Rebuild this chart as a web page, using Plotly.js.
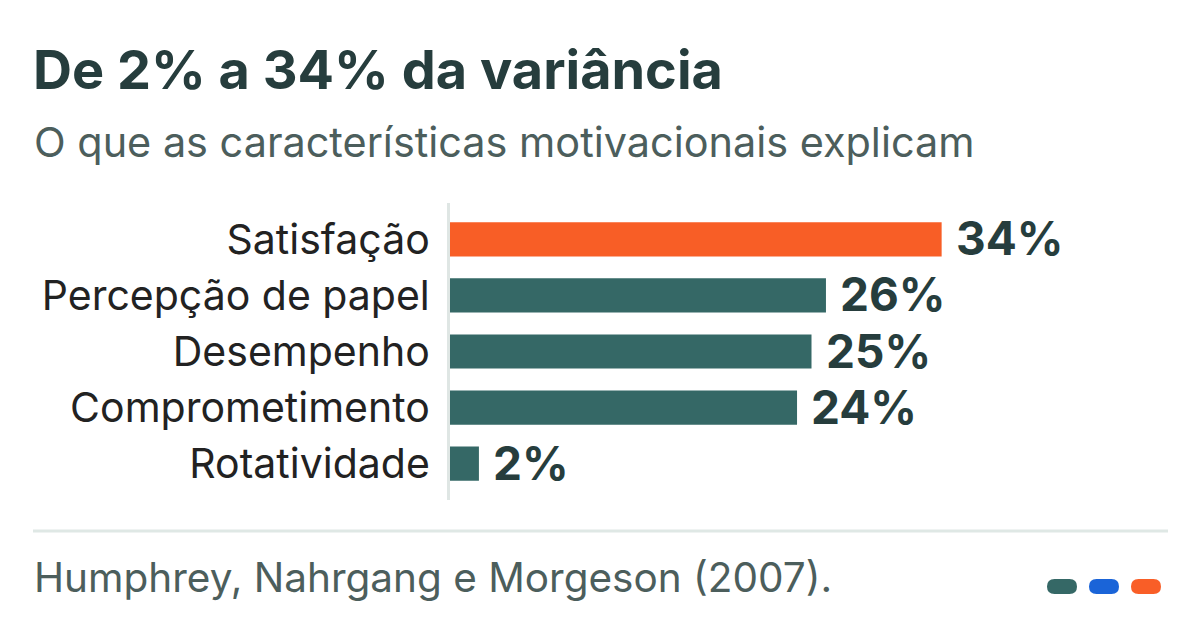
<!DOCTYPE html>
<html>
<head>
<meta charset="utf-8">
<script src="https://cdn.plot.ly/plotly-3.0.1.min.js"></script>
<style>
  html, body { margin: 0; padding: 0; background: #fff; }
  #chart { width: 1200px; height: 630px; }
</style>
</head>
<body>
<div id="chart"></div>
<script>
const categories = [
  "Satisfação",
  "Percepção de papel",
  "Desempenho",
  "Comprometimento",
  "Rotatividade",
];
const variance = [34, 26, 25, 24, 2];
const barColors = ["#f85e26", "#356866", "#356866", "#356866", "#356866"];
const pillColors = ["#356866", "#1a64d8", "#f95e27"];

const W = 1200;
const H = 630;
const margin = { l: 450, r: 27, t: 203, b: 130 };
const plotW = W - margin.l - margin.r;
const plotH = H - margin.t - margin.b;

// pixel -> paper helpers for the decorations outside the plot
function px(x) {
  return (x - margin.l) / plotW;
}
function py(y) {
  return (H - margin.b - y) / plotH;
}

function pill(x0, y0, x1, y1, color) {
  const r = (y1 - y0) / 2;
  const path =
    `M ${px(x0 + r)} ${py(y0)} L ${px(x1 - r)} ${py(y0)} ` +
    `Q ${px(x1)} ${py(y0)} ${px(x1)} ${py(y0 + r)} ` +
    `Q ${px(x1)} ${py(y1)} ${px(x1 - r)} ${py(y1)} ` +
    `L ${px(x0 + r)} ${py(y1)} ` +
    `Q ${px(x0)} ${py(y1)} ${px(x0)} ${py(y0 + r)} ` +
    `Q ${px(x0)} ${py(y0)} ${px(x0 + r)} ${py(y0)} Z`;
  return {
    type: "path",
    xref: "paper",
    yref: "paper",
    path: path,
    fillcolor: color,
    line: { width: 0 },
  };
}

const trace = {
  type: "bar",
  orientation: "h",
  x: variance,
  y: categories,
  marker: { color: barColors },
  width: 0.61,
  hoverinfo: "none",
};

const valueLabels = variance.map((v, i) => ({
  x: v,
  y: categories[i],
  xref: "x",
  yref: "y",
  text: `${v}%`,
  showarrow: false,
  xanchor: "left",
  yanchor: "middle",
  xshift: 12,
  yshift: 1,
  font: { family: "Inter, sans-serif", size: 46, color: "#263d3d", weight: 700 },
}));

const layout = {
  width: W,
  height: H,
  margin: margin,
  paper_bgcolor: "#ffffff",
  plot_bgcolor: "#ffffff",
  showlegend: false,
  title: {
    text: "<b>De 2% a 34% da variância</b>",
    x: 33 / W,
    xanchor: "left",
    xref: "container",
    y: 1 - 70 / H,
    yanchor: "middle",
    yref: "container",
    font: { family: "Inter, sans-serif", size: 54, color: "#263d3d" },
  },
  xaxis: {
    range: [0, 50],
    visible: false,
    fixedrange: true,
  },
  yaxis: {
    autorange: false,
    range: [4.65, -0.65],
    showline: true,
    linecolor: "#dfe6e4",
    linewidth: 3,
    showgrid: false,
    zeroline: false,
    ticks: "",
    ticklabelstandoff: 9,
    tickfont: { family: "Inter, sans-serif", size: 41, color: "#222222" },
    fixedrange: true,
  },
  annotations: [
    {
      text: "O que as características motivacionais explicam",
      xref: "paper",
      yref: "paper",
      x: px(32),
      y: py(142),
      xanchor: "left",
      yanchor: "middle",
      showarrow: false,
      font: { family: "Inter, sans-serif", size: 41.4, color: "#4c5e5c" },
    },
    {
      text: "Humphrey, Nahrgang e Morgeson (2007).",
      xref: "paper",
      yref: "paper",
      x: px(32),
      y: py(577),
      xanchor: "left",
      yanchor: "middle",
      showarrow: false,
      font: { family: "Inter, sans-serif", size: 40.5, color: "#4c5e5c" },
    },
    ...valueLabels,
  ],
  shapes: [
    {
      type: "line",
      xref: "paper",
      yref: "paper",
      x0: px(33),
      x1: px(1168),
      y0: py(531),
      y1: py(531),
      line: { color: "#dfe8e5", width: 3 },
    },
    pill(1047, 579, 1077, 594, pillColors[0]),
    pill(1089, 579, 1119, 594, pillColors[1]),
    pill(1131, 579, 1161, 594, pillColors[2]),
  ],
};

Plotly.newPlot("chart", [trace], layout, { displayModeBar: false, staticPlot: true });
</script>
</body>
</html>
